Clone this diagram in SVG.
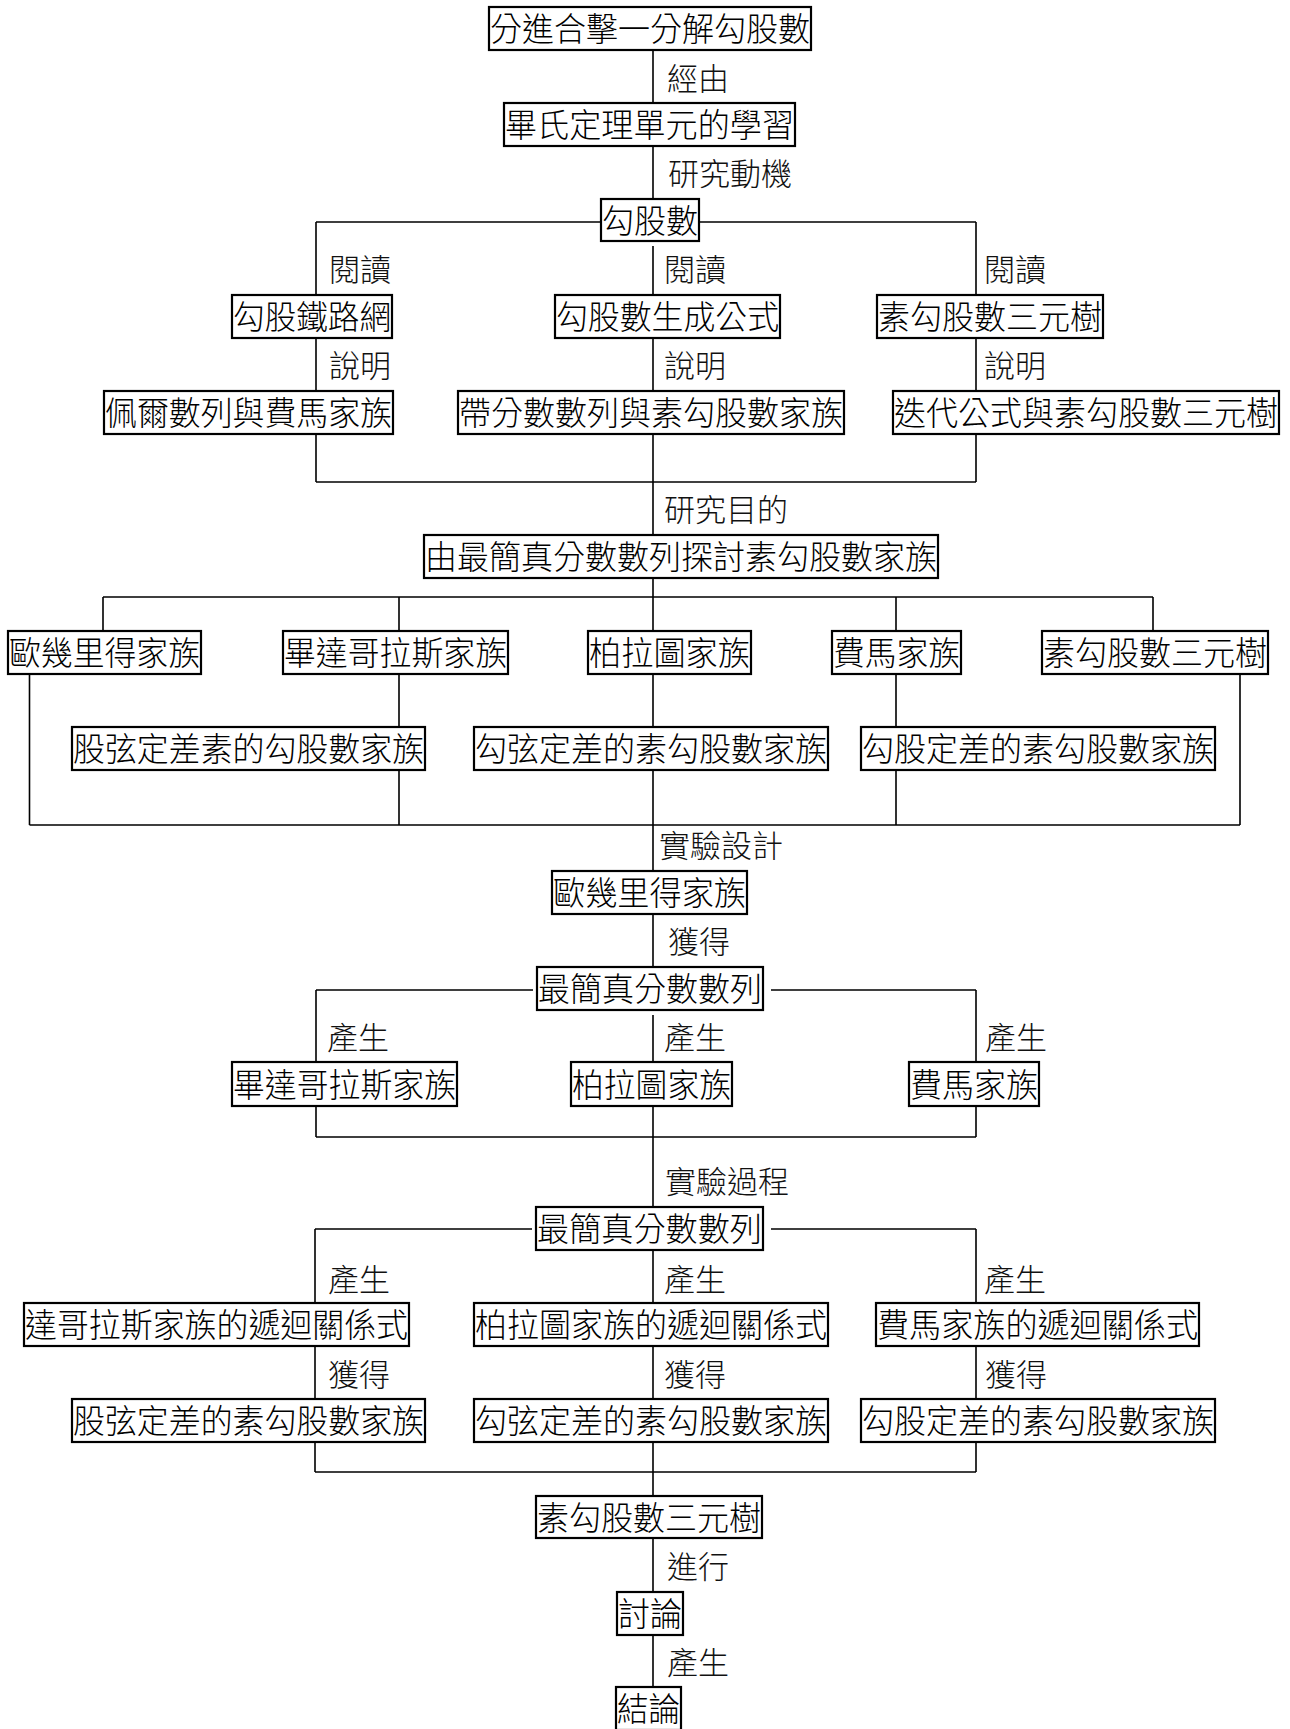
<svg xmlns="http://www.w3.org/2000/svg" width="1290" height="1729" viewBox="0 0 1290 1729">
<style>
.bg{fill:#fff}
.box{fill:#fff;stroke:#000;stroke-width:2.2}
.t{font-family:"Noto Sans CJK TC","Noto Sans CJK SC",sans-serif;font-size:33px;font-weight:300;fill:#000}
.l{font-family:"Noto Sans CJK TC","Noto Sans CJK SC",sans-serif;font-size:31px;font-weight:300;fill:#111}
.c{fill:none;stroke:#000;stroke-width:1.6}
</style>
<rect class="bg" x="0" y="0" width="1290" height="1729"/>
<g id="connectors">
<path class="c" d="M653 50V103M653 146V199"/>
<path class="c" d="M316 222H601M699 222H976"/>
<path class="c" d="M316 222V295M316 338V391M316 434V482"/>
<path class="c" d="M653 246V295M653 338V391M653 434V535"/>
<path class="c" d="M976 222V295M976 338V391M976 434V482"/>
<path class="c" d="M316 482H976"/>
<path class="c" d="M653 578V631M103 597H1153M103 597V631M399 597V631M896 597V631M1153 597V631"/>
<path class="c" d="M29.5 674V825M399 674V727M399 770V825M653 674V727M653 770V871M896 674V727M896 770V825M1240 674V825M29.5 825H1240"/>
<path class="c" d="M653 914V967M316 990H533M771 990H976M316 990V1062M653 1015V1062M976 990V1062"/>
<path class="c" d="M316 1106V1137M653 1106V1207M976 1106V1137M316 1137H976"/>
<path class="c" d="M315 1229H532M771 1229H976M315 1229V1303M653 1250V1303M976 1229V1303"/>
<path class="c" d="M315 1346V1399M653 1346V1399M976 1346V1399M315 1442V1472M653 1442V1496M976 1442V1472M315 1472H976"/>
<path class="c" d="M653 1538V1592M653 1635V1687"/>
</g>
<g id="labels">
<text class="l" x="667" y="90">經由</text>
<text class="l" x="668" y="185">研究動機</text>
<text class="l" x="329" y="281">閱讀</text>
<text class="l" x="664" y="281">閱讀</text>
<text class="l" x="984" y="281">閱讀</text>
<text class="l" x="329" y="377">說明</text>
<text class="l" x="664" y="377">說明</text>
<text class="l" x="984" y="377">說明</text>
<text class="l" x="664" y="521">研究目的</text>
<text class="l" x="659" y="857">實驗設計</text>
<text class="l" x="668" y="953">獲得</text>
<text class="l" x="327" y="1049">產生</text>
<text class="l" x="664" y="1049">產生</text>
<text class="l" x="985" y="1049">產生</text>
<text class="l" x="665" y="1193">實驗過程</text>
<text class="l" x="328" y="1291">產生</text>
<text class="l" x="664" y="1291">產生</text>
<text class="l" x="984" y="1291">產生</text>
<text class="l" x="328" y="1386">獲得</text>
<text class="l" x="664" y="1386">獲得</text>
<text class="l" x="985" y="1386">獲得</text>
<text class="l" x="667" y="1578">進行</text>
<text class="l" x="667" y="1674">產生</text>
</g>
<g id="n1"><rect class="box" x="489" y="7" width="322" height="43"/><text class="t" x="490" y="41" textLength="320" lengthAdjust="spacingAndGlyphs">分進合擊一分解勾股數</text></g>
<g id="n2"><rect class="box" x="504" y="103" width="291" height="43"/><text class="t" x="505" y="137" textLength="289" lengthAdjust="spacingAndGlyphs">畢氏定理單元的學習</text></g>
<g id="n3"><rect class="box" x="601" y="199" width="98" height="42"/><text class="t" x="602" y="232.5" textLength="96" lengthAdjust="spacingAndGlyphs">勾股數</text></g>
<g id="n4"><rect class="box" x="232" y="295" width="160" height="43"/><text class="t" x="233" y="329" textLength="158" lengthAdjust="spacingAndGlyphs">勾股鐵路網</text></g>
<g id="n5"><rect class="box" x="555" y="295" width="225" height="43"/><text class="t" x="556" y="329" textLength="223" lengthAdjust="spacingAndGlyphs">勾股數生成公式</text></g>
<g id="n6"><rect class="box" x="877" y="295" width="226" height="43"/><text class="t" x="878" y="329" textLength="224" lengthAdjust="spacingAndGlyphs">素勾股數三元樹</text></g>
<g id="n7"><rect class="box" x="104" y="391" width="289" height="43"/><text class="t" x="105" y="425" textLength="287" lengthAdjust="spacingAndGlyphs">佩爾數列與費馬家族</text></g>
<g id="n8"><rect class="box" x="458" y="391" width="386" height="43"/><text class="t" x="459" y="425" textLength="384" lengthAdjust="spacingAndGlyphs">帶分數數列與素勾股數家族</text></g>
<g id="n9"><rect class="box" x="893" y="391" width="386" height="43"/><text class="t" x="894" y="425" textLength="384" lengthAdjust="spacingAndGlyphs">迭代公式與素勾股數三元樹</text></g>
<g id="n10"><rect class="box" x="424" y="535" width="514" height="43"/><text class="t" x="425" y="569" textLength="512" lengthAdjust="spacingAndGlyphs">由最簡真分數數列探討素勾股數家族</text></g>
<g id="n11"><rect class="box" x="8" y="631" width="193" height="43"/><text class="t" x="9" y="665" textLength="191" lengthAdjust="spacingAndGlyphs">歐幾里得家族</text></g>
<g id="n12"><rect class="box" x="283" y="631" width="225" height="43"/><text class="t" x="284" y="665" textLength="223" lengthAdjust="spacingAndGlyphs">畢達哥拉斯家族</text></g>
<g id="n13"><rect class="box" x="588" y="631" width="163" height="43"/><text class="t" x="589" y="665" textLength="161" lengthAdjust="spacingAndGlyphs">柏拉圖家族</text></g>
<g id="n14"><rect class="box" x="832" y="631" width="129" height="43"/><text class="t" x="833" y="665" textLength="127" lengthAdjust="spacingAndGlyphs">費馬家族</text></g>
<g id="n15"><rect class="box" x="1042" y="631" width="226" height="43"/><text class="t" x="1043" y="665" textLength="224" lengthAdjust="spacingAndGlyphs">素勾股數三元樹</text></g>
<g id="n16"><rect class="box" x="72" y="727" width="353" height="43"/><text class="t" x="73" y="761" textLength="351" lengthAdjust="spacingAndGlyphs">股弦定差素的勾股數家族</text></g>
<g id="n17"><rect class="box" x="474" y="727" width="354" height="43"/><text class="t" x="475" y="761" textLength="352" lengthAdjust="spacingAndGlyphs">勾弦定差的素勾股數家族</text></g>
<g id="n18"><rect class="box" x="861" y="727" width="354" height="43"/><text class="t" x="862" y="761" textLength="352" lengthAdjust="spacingAndGlyphs">勾股定差的素勾股數家族</text></g>
<g id="n19"><rect class="box" x="552" y="871" width="195" height="43"/><text class="t" x="553" y="905" textLength="193" lengthAdjust="spacingAndGlyphs">歐幾里得家族</text></g>
<g id="n20"><rect class="box" x="537" y="967" width="226" height="43"/><text class="t" x="538" y="1001" textLength="224" lengthAdjust="spacingAndGlyphs">最簡真分數數列</text></g>
<g id="n21"><rect class="box" x="232" y="1062" width="225" height="44"/><text class="t" x="233" y="1096.5" textLength="223" lengthAdjust="spacingAndGlyphs">畢達哥拉斯家族</text></g>
<g id="n22"><rect class="box" x="571" y="1062" width="161" height="44"/><text class="t" x="572" y="1096.5" textLength="159" lengthAdjust="spacingAndGlyphs">柏拉圖家族</text></g>
<g id="n23"><rect class="box" x="909" y="1062" width="130" height="44"/><text class="t" x="910" y="1096.5" textLength="128" lengthAdjust="spacingAndGlyphs">費馬家族</text></g>
<g id="n24"><rect class="box" x="536" y="1207" width="227" height="43"/><text class="t" x="537" y="1241" textLength="225" lengthAdjust="spacingAndGlyphs">最簡真分數數列</text></g>
<g id="n25"><rect class="box" x="24" y="1303" width="385" height="43"/><text class="t" x="25" y="1337" textLength="383" lengthAdjust="spacingAndGlyphs">達哥拉斯家族的遞迴關係式</text></g>
<g id="n26"><rect class="box" x="474" y="1303" width="354" height="43"/><text class="t" x="475" y="1337" textLength="352" lengthAdjust="spacingAndGlyphs">柏拉圖家族的遞迴關係式</text></g>
<g id="n27"><rect class="box" x="876" y="1303" width="323" height="43"/><text class="t" x="877" y="1337" textLength="321" lengthAdjust="spacingAndGlyphs">費馬家族的遞迴關係式</text></g>
<g id="n28"><rect class="box" x="72" y="1399" width="353" height="43"/><text class="t" x="73" y="1433" textLength="351" lengthAdjust="spacingAndGlyphs">股弦定差的素勾股數家族</text></g>
<g id="n29"><rect class="box" x="474" y="1399" width="354" height="43"/><text class="t" x="475" y="1433" textLength="352" lengthAdjust="spacingAndGlyphs">勾弦定差的素勾股數家族</text></g>
<g id="n30"><rect class="box" x="861" y="1399" width="354" height="43"/><text class="t" x="862" y="1433" textLength="352" lengthAdjust="spacingAndGlyphs">勾股定差的素勾股數家族</text></g>
<g id="n31"><rect class="box" x="536" y="1496" width="226" height="42"/><text class="t" x="537" y="1529.5" textLength="224" lengthAdjust="spacingAndGlyphs">素勾股數三元樹</text></g>
<g id="n32"><rect class="box" x="617" y="1592" width="66" height="43"/><text class="t" x="618" y="1626" textLength="64" lengthAdjust="spacingAndGlyphs">討論</text></g>
<g id="n33"><rect class="box" x="616" y="1687" width="65" height="43"/><text class="t" x="617" y="1721" textLength="63" lengthAdjust="spacingAndGlyphs">結論</text></g>
</svg>
